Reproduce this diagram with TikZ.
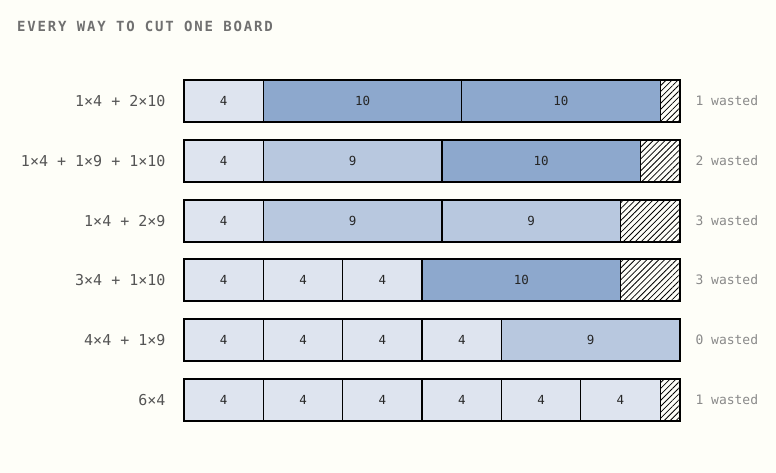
\documentclass[tikz,border=0pt]{standalone}
\usepackage{fontspec}
\setmainfont{DejaVu Sans Mono}
\newfontfamily\titlefont[LetterSpace=13]{DejaVu Sans Mono}
\usetikzlibrary{positioning,patterns.meta}

\definecolor{bg}{HTML}{FEFEF8}
\definecolor{piecefour}{HTML}{DEE4EF}
\definecolor{piecenine}{HTML}{B8C8DF}
\definecolor{pieceten}{HTML}{8DA8CD}
\definecolor{labelgray}{HTML}{555555}
\definecolor{wastegray}{HTML}{8A8A8A}
\definecolor{titlegray}{HTML}{707070}

\newcommand{\unitlen}{19.84pt}

\tikzset{
  cut/.style={draw=black, line width=1.2pt, minimum height=42pt, inner sep=0pt,
    outer sep=0pt, text=black!85, font=\fontsize{12.5}{14}\selectfont},
  four/.style={cut, fill=piecefour, minimum width=4*\unitlen},
  nine/.style={cut, fill=piecenine, minimum width=9*\unitlen},
  ten/.style={cut, fill=pieceten, minimum width=10*\unitlen},
  waste/.style={cut, minimum width=#1*\unitlen,
    pattern={Lines[angle=45,distance=4.2pt,line width=0.8pt]}},
  rowlabel/.style={anchor=east, text=labelgray, font=\fontsize{15}{17}\selectfont},
  wastelabel/.style={anchor=west, text=wastegray, font=\fontsize{13}{15}\selectfont},
}

\begin{document}
\begin{tikzpicture}[x=1pt,y=-1pt]

\useasboundingbox[fill=bg] (0,0) rectangle (776,473);

\node[anchor=base west, inner sep=0pt, text=titlegray, font=\titlefont\bfseries\fontsize{14}{16}\selectfont]
  (title) at (17,32) {EVERY WAY TO CUT ONE BOARD};

% row 1
\node[four, anchor=west] (a1) at (184,101) {4};
\node[ten, right=0pt of a1] (a2) {10};
\node[ten, right=0pt of a2] (a3) {10};
\node[waste=1, right=0pt of a3] (a4) {};
\node[rowlabel] (la) at (169,101) {1×4 + 2×10};
\node[wastelabel] (wa) at (692,101) {1 wasted};

% row 2
\node[four, anchor=west] (b1) at (184,161) {4};
\node[nine, right=0pt of b1] (b2) {9};
\node[ten, right=0pt of b2] (b3) {10};
\node[waste=2, right=0pt of b3] (b4) {};
\node[rowlabel] (lb) at (169,161) {1×4 + 1×9 + 1×10};
\node[wastelabel] (wb) at (692,161) {2 wasted};

% row 3
\node[four, anchor=west] (c1) at (184,221) {4};
\node[nine, right=0pt of c1] (c2) {9};
\node[nine, right=0pt of c2] (c3) {9};
\node[waste=3, right=0pt of c3] (c4) {};
\node[rowlabel] (lc) at (169,221) {1×4 + 2×9};
\node[wastelabel] (wc) at (692,221) {3 wasted};

% row 4
\node[four, anchor=west] (d1) at (184,280) {4};
\node[four, right=0pt of d1] (d2) {4};
\node[four, right=0pt of d2] (d3) {4};
\node[ten, right=0pt of d3] (d4) {10};
\node[waste=3, right=0pt of d4] (d5) {};
\node[rowlabel] (ld) at (169,280) {3×4 + 1×10};
\node[wastelabel] (wd) at (692,280) {3 wasted};

% row 5
\node[four, anchor=west] (e1) at (184,340) {4};
\foreach \i [count=\j from 2] in {1,2,3}
  \node[four, right=0pt of e\i] (e\j) {4};
\node[nine, right=0pt of e4] (e5) {9};
\node[rowlabel] (le) at (169,340) {4×4 + 1×9};
\node[wastelabel] (we) at (692,340) {0 wasted};

% row 6
\node[four, anchor=west] (f1) at (184,400) {4};
\foreach \i [count=\j from 2] in {1,...,5}
  \node[four, right=0pt of f\i] (f\j) {4};
\node[waste=1, right=0pt of f6] (f7) {};
\node[rowlabel] (lf) at (169,400) {6×4};
\node[wastelabel] (wf) at (692,400) {1 wasted};

\end{tikzpicture}
\end{document}
